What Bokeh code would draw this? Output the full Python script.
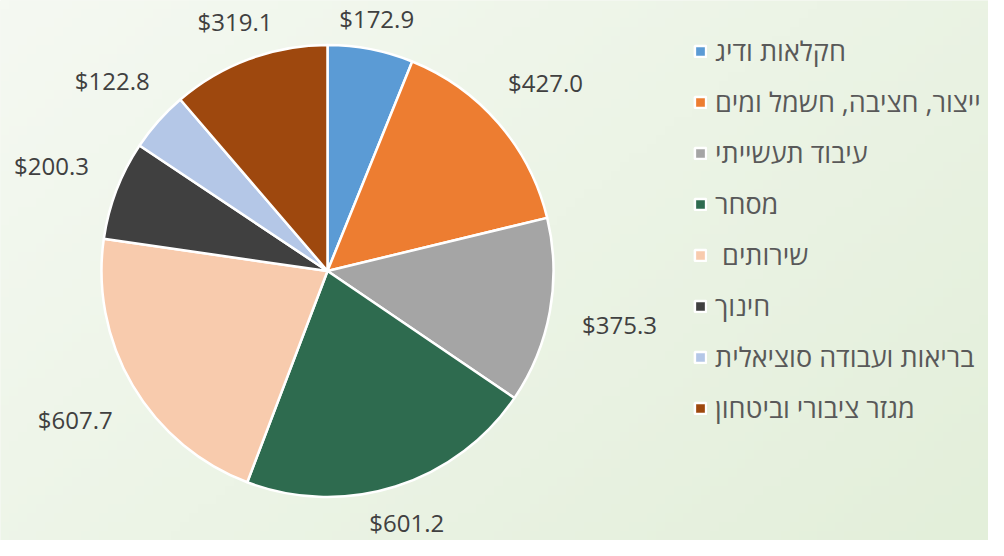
import numpy as np
from bokeh.plotting import figure
from bokeh.models import Range1d, Legend, LegendItem, ColumnDataSource
from bokeh.core.properties import value
from bokeh.embed import file_html
from bokeh.resources import INLINE

categories = [
    "חקלאות ודיג",
    "ייצור, חציבה, חשמל ומים",
    "עיבוד תעשייתי",
    "מסחר",
    " שירותים",
    "חינוך",
    "בריאות ועבודה סוציאלית",
    "מגזר ציבורי וביטחון",
]
values = [172.9, 427.0, 375.3, 601.2, 607.7, 200.3, 122.8, 319.1]
value_labels = ["$172.9", "$427.0", "$375.3", "$601.2", "$607.7", "$200.3", "$122.8", "$319.1"]
colors = ["#5B9BD5", "#ED7D31", "#A5A5A5", "#2E6B4F", "#F8CBAD", "#404040", "#B4C7E7", "#9E480E"]

W, H = 988, 540
CX, CY, R = 327, 269.5, 226    # pie centre (y measured upward) and radius, px
GAP, LW, LH = 10, 120, 20      # label placement: gap outside the pie and label box extents, px

vals = np.array(values)
total = vals.sum()
cum = np.concatenate([[0], np.cumsum(vals)])
start = np.pi / 2 - 2 * np.pi * cum[:-1] / total
end = np.pi / 2 - 2 * np.pi * cum[1:] / total
mid = (start + end) / 2
ux, uy = np.cos(mid), np.sin(mid)
dist = R + GAP + np.abs(ux) * LW / 2 + np.abs(uy) * LH / 2

p = figure(width=W, height=H, output_backend="svg", toolbar_location=None,
           x_range=Range1d(0, W), y_range=Range1d(0, H), min_border=0)
p.axis.visible = False
p.grid.visible = False
p.outline_line_color = None
p.background_fill_color = "#EDF4E7"
p.border_fill_color = "#EDF4E7"

# background gradient (top-left light -> bottom-right slightly darker green)
ny, nx = 60, 110
gx = np.linspace(0, 1, nx)[None, :]
gy = np.linspace(1, 0, ny)[:, None]
t = np.clip((gx * 0.6 + gy * 0.4), 0, 1)
c0 = np.array([245, 249, 242])
c1 = np.array([227, 239, 218])
img = np.zeros((ny, nx), dtype=np.uint32)
view = img.view(dtype=np.uint8).reshape((ny, nx, 4))
for k in range(3):
    view[:, :, k] = (c0[k] + (c1[k] - c0[k]) * t).astype(np.uint8)
view[:, :, 3] = 255
p.image_rgba(image=[img], x=0, y=0, dw=W, dh=H)

src = ColumnDataSource(dict(
    start=start, end=end, color=colors, cat=categories,
    lx=CX + dist * ux, ly=CY + dist * uy, lab=value_labels,
))

wedges = p.wedge(x=CX, y=CY, radius=R, radius_units="screen",
                 start_angle="start", end_angle="end", direction="clock",
                 fill_color="color", line_color="white", line_width=2.5, source=src)

p.text(x="lx", y="ly", text="lab", source=src, text_align="center", text_baseline="middle",
       text_font=value("Open Sans"), text_font_size="24px", text_color="#404040")

items = [LegendItem(label=categories[i], renderers=[wedges], index=i) for i in range(len(categories))]
legend = Legend(items=items, location=(693, 114), orientation="vertical",
                glyph_width=14, glyph_height=14, label_standoff=8,
                label_text_font="Open Sans", label_text_font_size="27px",
                label_text_color="#595959", label_height=37, spacing=14,
                padding=0, margin=0, border_line_color=None,
                background_fill_alpha=0)
p.add_layout(legend, "center")

open("out.html", "w").write(file_html(p, INLINE))
